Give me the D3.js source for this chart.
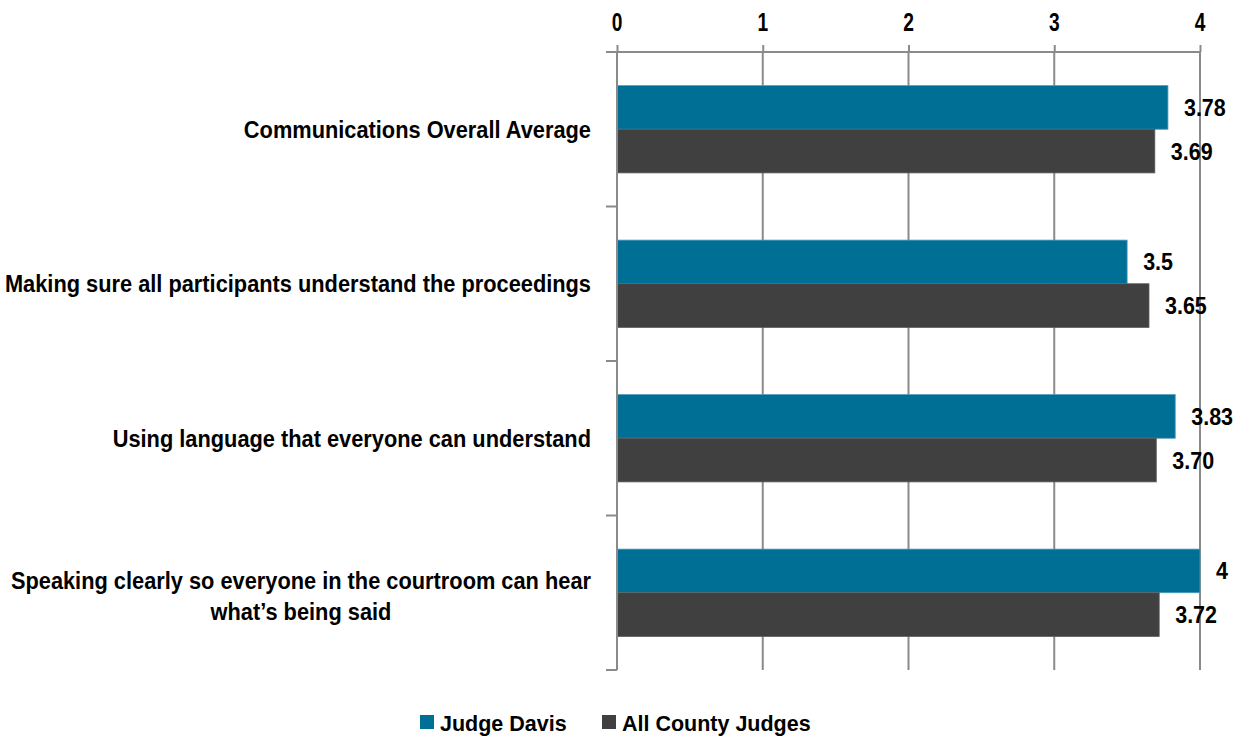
<!DOCTYPE html>
<html>
<head>
<meta charset="utf-8">
<script src="https://cdn.jsdelivr.net/npm/d3@7"></script>
<style>
  body { margin: 0; background: #fff; }
  svg { display: block; }
  text { font-family: "Liberation Sans", Arial, sans-serif; font-weight: bold; fill: #000; }
</style>
</head>
<body>
<svg id="chart" width="1237" height="738"></svg>
<script>
// Categories, top to bottom. Multi-line labels are split with '\n'.
const categories = [
  'Communications Overall Average',
  'Making sure all participants understand the proceedings',
  'Using language that everyone can understand',
  'Speaking clearly so everyone in the courtroom can hear\nwhat’s being said',
];
const seriesNames = ['Judge Davis', 'All County Judges'];
const judgeDavis = [3.78, 3.5, 3.83, 4];
const allCountyJudges = [3.69, 3.65, 3.70, 3.72];
const valueLabels = [
  ['3.78', '3.5', '3.83', '4'],
  ['3.69', '3.65', '3.70', '3.72'],
];
const xTicks = [0, 1, 2, 3, 4];

const colours = ['#006f96', '#404040'];
const strokes = ['#4f9cba', '#5a5a5a'];
const axisColour = '#8a8a8a';

const svg = d3.select('#chart');

const plot = { left: 617, right: 1200, top: 52, bottom: 670 };

const x = d3.scaleLinear().domain([0, 4]).range([plot.left, plot.right]);
const y = d3.scaleBand().domain(categories).range([plot.top, plot.bottom]);
const ySeries = d3.scaleBand().domain([0, 1]).range([0, y.bandwidth()])
  .paddingInner(0).paddingOuter(0.77);

const series = [judgeDavis, allCountyJudges];

// Text is drawn a little taller than the font to match the original's look.
function label(parent, tx, ty, str, anchor, size, sx, sy) {
  return parent.append('text')
    .attr('transform', `translate(${tx},${ty}) scale(${sx},${sy})`)
    .attr('dy', '0.35em')
    .attr('text-anchor', anchor)
    .style('font-size', `${size}px`)
    .text(str);
}

// Vertical gridlines.
svg.append('g')
  .selectAll('line')
  .data(xTicks)
  .join('line')
  .attr('x1', d => x(d))
  .attr('x2', d => x(d))
  .attr('y1', plot.top)
  .attr('y2', plot.bottom)
  .attr('stroke', axisColour)
  .attr('stroke-width', 2);

// Bars.
series.forEach((values, s) => {
  svg.append('g')
    .selectAll('rect')
    .data(values)
    .join('rect')
    .attr('x', x(0))
    .attr('y', (d, i) => y(categories[i]) + ySeries(s))
    .attr('width', d => x(d) - x(0))
    .attr('height', ySeries.bandwidth())
    .attr('fill', colours[s])
    .attr('stroke', strokes[s])
    .attr('stroke-width', 0.8);
});

// Top axis; tick labels drawn separately so they can be condensed.
const xAxis = svg.append('g')
  .attr('transform', `translate(0,${plot.top})`)
  .call(d3.axisTop(x).tickValues(xTicks).tickSize(7).tickFormat('').tickSizeOuter(0));
xAxis.select('.domain').attr('stroke', axisColour).attr('stroke-width', 2)
  .attr('d', `M${plot.left - 11},0H${plot.right}`);
xAxis.selectAll('.tick line').attr('stroke', axisColour).attr('stroke-width', 2);
const tickLabels = svg.append('g');
xTicks.forEach(t => label(tickLabels, x(t), 21.5, d3.format('d')(t), 'middle', 24, 0.8, 1.08));

// Left category axis: line and ticks at band edges.
svg.append('line')
  .attr('x1', plot.left).attr('x2', plot.left)
  .attr('y1', plot.top).attr('y2', plot.bottom)
  .attr('stroke', axisColour).attr('stroke-width', 2);
const edges = categories.map(c => y(c)).concat([plot.bottom]);
svg.append('g')
  .selectAll('line')
  .data(edges)
  .join('line')
  .attr('x1', plot.left - 11).attr('x2', plot.left)
  .attr('y1', d => d).attr('y2', d => d)
  .attr('stroke', axisColour).attr('stroke-width', 2);

// Category labels.
const catLabels = svg.append('g');
categories.forEach(c => {
  const lines = c.split('\n');
  const cy = y(c) + y.bandwidth() / 2;
  if (lines.length === 1) {
    label(catLabels, 591, cy, lines[0], 'end', 21.8, 1, 1.1);
  } else {
    const first = label(catLabels, 591, cy - 12, lines[0], 'end', 21.8, 1, 1.1);
    const w = first.node().getComputedTextLength();
    label(catLabels, 591 - w / 2, cy + 19, lines[1], 'middle', 21.8, 1, 1.1);
  }
});

// Value labels.
const valLabels = svg.append('g');
series.forEach((values, s) => {
  values.forEach((d, i) => {
    const cy = y(categories[i]) + ySeries(s) + ySeries.bandwidth() / 2;
    label(valLabels, x(d) + 16, cy, valueLabels[s][i], 'start', 21.5, 1, 1.12);
  });
});

// Legend.
const legendItems = [{ x: 420, name: seriesNames[0], c: colours[0] }, { x: 602, name: seriesNames[1], c: colours[1] }];
const legend = svg.append('g');
legendItems.forEach(item => {
  legend.append('rect')
    .attr('x', item.x).attr('y', 715)
    .attr('width', 14).attr('height', 14)
    .attr('fill', item.c);
  label(legend, item.x + 20, 723.5, item.name, 'start', 21.5, 1, 1.06);
});
</script>
</body>
</html>
